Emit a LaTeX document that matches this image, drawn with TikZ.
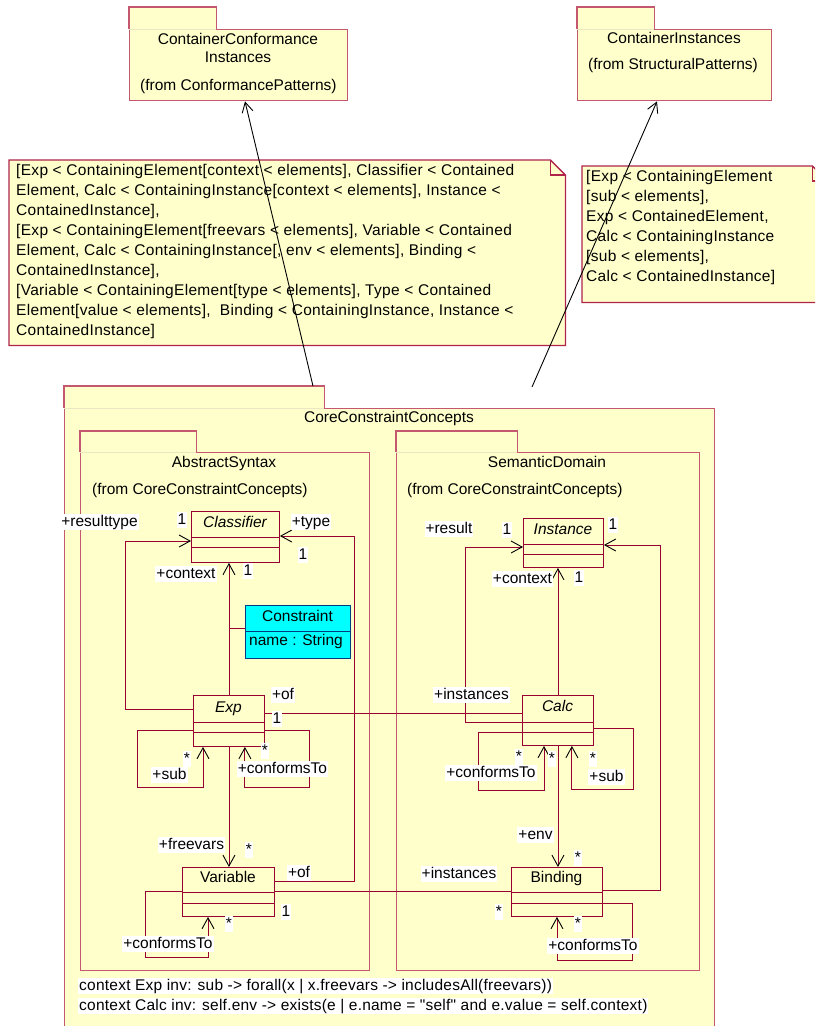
\documentclass[tikz,border=0pt]{standalone}
\usepackage{fontspec}
\setmainfont{Liberation Sans}
\newfontfamily\notefont[LetterSpace=2]{Liberation Sans}
\newfontfamily\oclfont[LetterSpace=1.5]{Liberation Sans}
\usetikzlibrary{arrows.meta,calc}
\definecolor{paper}{RGB}{255,255,204}
\definecolor{pkgline}{RGB}{196,88,112}
\definecolor{tabseam}{RGB}{236,230,196}
\definecolor{clsline}{RGB}{152,0,50}
\definecolor{noteline}{RGB}{176,36,76}
\definecolor{cyanfill}{RGB}{0,255,255}
\definecolor{cyanline}{RGB}{0,60,130}

\begin{document}
\begin{tikzpicture}[x=1pt,y=-1pt,
  txt/.style={font=\fontsize{15.5}{20}\selectfont, inner sep=0pt, text height=11pt, text depth=3pt},
  itxt/.style={txt, font=\fontsize{15.5}{20}\selectfont\itshape},
  lbl/.style={txt, fill=white, inner xsep=1pt, inner ysep=1pt},
  ocl/.style={lbl, anchor=west, font=\oclfont\fontsize{15.5}{20}\selectfont},
  notetxt/.style={font=\notefont\fontsize{15.5}{20}\selectfont, inner sep=0pt, anchor=base west},
  pkgbody/.style={draw=pkgline, fill=paper, line width=1.4pt, anchor=north west, inner sep=0pt},
  pkgtab/.style={fill=paper, anchor=north west, inner sep=0pt},
  pkgedge/.style={draw=pkgline, line width=1.4pt},
  seam/.style={draw=tabseam, line width=1.2pt},
  cls/.style={draw=clsline, fill=paper, line width=0.9pt, anchor=north west, inner sep=0pt},
  clsedge/.style={draw=clsline, line width=0.9pt},
  assoc/.style={draw=clsline, line width=0.9pt},
  nav/.style={assoc, -{Straight Barb[length=11pt,width=12pt,color=black]}},
  dep/.style={draw=black, line width=0.9pt, -{Straight Barb[length=10pt,width=11pt]}},
  notebody/.style={anchor=north west, inner sep=0pt},
  noteedge/.style={draw=noteline, fill=paper, line width=1.3pt},
]
\useasboundingbox (0,0) rectangle (815,1026);
\clip (0,0) rectangle (815,1026);
\fill[white] (0,0) rectangle (815,1026);

% ---------- packages referenced from outside ----------
\node[pkgtab, minimum width=87pt, minimum height=22pt] (ccinsttab) at (129,7) {};
\node[pkgbody, minimum width=218pt, minimum height=71pt] (ccinst) at (129,29) {};
\draw[pkgedge] (ccinsttab.south west) -- (ccinsttab.north west) -- (ccinsttab.north east) -- (ccinsttab.south east);
\draw[seam] (ccinsttab.south west) -- (ccinsttab.south east);
\node[txt] (ccinstt1) at (238,40) {ContainerConformance};
\node[txt] (ccinstt2) at (238,58) {Instances};
\node[txt, anchor=west] (ccinstf) at (140,86) {(from ConformancePatterns)};

\node[pkgtab, minimum width=77pt, minimum height=22pt] (cinsttab) at (577,7) {};
\node[pkgbody, minimum width=194pt, minimum height=71pt] (cinst) at (577,29) {};
\draw[pkgedge] (cinsttab.south west) -- (cinsttab.north west) -- (cinsttab.north east) -- (cinsttab.south east);
\draw[seam] (cinsttab.south west) -- (cinsttab.south east);
\node[txt] (cinstt) at (674,39) {ContainerInstances};
\node[txt, anchor=west] (cinstf) at (588,65) {(from StructuralPatterns)};

% ---------- binding notes ----------
\node[notebody, minimum width=556pt, minimum height=185pt] (note1) at (9,160) {};
\draw[noteedge] (note1.north west) -- ($(note1.north east)+(-15,0)$) -- ($(note1.north east)+(0,15)$)
  -- (note1.south east) -- (note1.south west) -- cycle;
\draw[draw=noteline, line width=1.1pt] ($(note1.north east)+(-15,0)$) -- ($(note1.north east)+(-15,15)$) -- ($(note1.north east)+(0,15)$);
\foreach \t [count=\i] in {
  {[Exp < ContainingElement[context < elements], Classifier < Contained},
  {Element, Calc < ContainingInstance[context < elements], Instance <},
  {ContainedInstance],},
  {[Exp < ContainingElement[freevars < elements], Variable < Contained},
  {Element, Calc < ContainingInstance[, env < elements], Binding <},
  {ContainedInstance],},
  {[Variable < ContainingElement[type < elements], Type < Contained},
  {Element[value < elements],\ \ Binding < ContainingInstance, Instance <},
  {ContainedInstance]}}
  \node[notetxt] (note1line\i) at (16,{175.5+20*(\i-1)}) {\t};

\node[notebody, minimum width=245pt, minimum height=136pt] (note2) at (582,166) {};
\draw[noteedge] (note2.north west) -- ($(note2.north east)+(-15,0)$) -- ($(note2.north east)+(0,15)$)
  -- (note2.south east) -- (note2.south west) -- cycle;
\draw[draw=noteline, line width=1.1pt] ($(note2.north east)+(-15,0)$) -- ($(note2.north east)+(-15,15)$) -- ($(note2.north east)+(0,15)$);
\foreach \t [count=\i] in {
  {[Exp < ContainingElement},
  {[sub < elements],},
  {Exp < ContainedElement,},
  {Calc < ContainingInstance},
  {[sub < elements],},
  {Calc < ContainedInstance]}}
  \node[notetxt] (note2line\i) at (586,{181.5+20*(\i-1)}) {\t};

% ---------- CoreConstraintConcepts ----------
\node[pkgtab, minimum width=260pt, minimum height=22pt] (coretab) at (64,386) {};
\node[pkgbody, minimum width=650pt, minimum height=660pt] (core) at (64,408) {};
\draw[pkgedge] (coretab.south west) -- (coretab.north west) -- (coretab.north east) -- (coretab.south east);
\draw[seam] (coretab.south west) -- (coretab.south east);
\node[txt] (coret) at (389,418) {CoreConstraintConcepts};

% dependencies towards the pattern packages
\coordinate (dep1src) at ($(coretab.north west)+(249,0)$);
\coordinate (dep2src) at ($(core.north west)+(468,-21)$);
\draw[dep] (dep1src) -- ($(ccinst.south west)+(116,0)$);
\draw[dep] (dep2src) -- ($(cinst.south west)+(80,0)$);

% AbstractSyntax
\node[pkgtab, minimum width=116pt, minimum height=21pt] (abstab) at (80,431) {};
\node[pkgbody, minimum width=289pt, minimum height=518pt] (abs) at (80,452) {};
\draw[pkgedge] (abstab.south west) -- (abstab.north west) -- (abstab.north east) -- (abstab.south east);
\draw[seam] (abstab.south west) -- (abstab.south east);
\node[txt] (abst) at (224,463) {AbstractSyntax};
\node[txt, anchor=west] (absf) at (92,490) {(from CoreConstraintConcepts)};

% SemanticDomain
\node[pkgtab, minimum width=121pt, minimum height=21pt] (semtab) at (396,431) {};
\node[pkgbody, minimum width=303pt, minimum height=518pt] (sem) at (396,452) {};
\draw[pkgedge] (semtab.south west) -- (semtab.north west) -- (semtab.north east) -- (semtab.south east);
\draw[seam] (semtab.south west) -- (semtab.south east);
\node[txt] (semt) at (547,463) {SemanticDomain};
\node[txt, anchor=west] (semf) at (407,490) {(from CoreConstraintConcepts)};

% ---------- classes ----------
\node[cls, minimum width=88pt, minimum height=51pt] (classifier) at (191,511) {};
\draw[clsedge] ($(classifier.north west)+(0,26)$) -- ($(classifier.north east)+(0,26)$);
\draw[clsedge] ($(classifier.north west)+(0,36)$) -- ($(classifier.north east)+(0,36)$);
\node[itxt] (classifiern) at (235,523) {Classifier};

\node[draw=cyanline, fill=cyanfill, line width=1pt, anchor=north west, inner sep=0pt,
      minimum width=105pt, minimum height=53pt] (constraint) at (245,605) {};
\draw[draw=cyanline, line width=1pt] ($(constraint.north west)+(0,26)$) -- ($(constraint.north east)+(0,26)$);
\node[txt] (constraintn) at (297.5,617) {Constraint};
\node[txt, anchor=west] (constraintattr) at (249,641) {name : String};

\node[cls, minimum width=71pt, minimum height=51pt] (exp) at (193,695) {};
\draw[clsedge] ($(exp.north west)+(0,27)$) -- ($(exp.north east)+(0,27)$);
\draw[clsedge] ($(exp.north west)+(0,37)$) -- ($(exp.north east)+(0,37)$);
\node[itxt] (expn) at (228.5,708) {Exp};

\node[cls, minimum width=92pt, minimum height=49pt] (variable) at (182,867) {};
\draw[clsedge] ($(variable.north west)+(0,25)$) -- ($(variable.north east)+(0,25)$);
\draw[clsedge] ($(variable.north west)+(0,36)$) -- ($(variable.north east)+(0,36)$);
\node[txt] (variablen) at (228,878) {Variable};

\node[cls, minimum width=80pt, minimum height=49pt] (instance) at (523,518) {};
\draw[clsedge] ($(instance.north west)+(0,26)$) -- ($(instance.north east)+(0,26)$);
\draw[clsedge] ($(instance.north west)+(0,36)$) -- ($(instance.north east)+(0,36)$);
\node[itxt] (instancen) at (563,530) {Instance};

\node[cls, minimum width=71pt, minimum height=50pt] (calc) at (522,695) {};
\draw[clsedge] ($(calc.north west)+(0,27)$) -- ($(calc.north east)+(0,27)$);
\draw[clsedge] ($(calc.north west)+(0,37)$) -- ($(calc.north east)+(0,37)$);
\node[itxt] (calcn) at (557.5,707) {Calc};

\node[cls, minimum width=91pt, minimum height=49pt] (binding) at (511,867) {};
\draw[clsedge] ($(binding.north west)+(0,25)$) -- ($(binding.north east)+(0,25)$);
\draw[clsedge] ($(binding.north west)+(0,36)$) -- ($(binding.north east)+(0,36)$);
\node[txt] (bindingn) at (556.5,878) {Binding};

% ---------- associations ----------
\draw[nav] (exp.north) -- (exp.north |- classifier.south);
\draw[assoc] ($(constraint.north west)+(0,23)$) -- (exp.north |- {$(constraint.north west)+(0,23)$});
\draw[nav] ($(exp.north west)+(0,14)$) -- ++(-68,0) |- ($(classifier.north west)+(0,30)$);
\draw[nav] ($(variable.north east)+(0,14)$) -- ++(80,0) |- ($(classifier.north east)+(0,25)$);
\draw[nav] ($(exp.north west)+(0,35)$) -- ++(-56,0) -- ++(0,57) -| ($(exp.south west)+(10,0)$);
\draw[nav] ($(exp.north east)+(0,35)$) -- ++(45,0) -- ++(0,57) -| ($(exp.south east)+(-20,0)$);
\draw[nav] (exp.south) -- (exp.south |- variable.north);
\draw[nav] ($(variable.north west)+(0,24)$) -- ++(-37,0) -- ++(0,66) -| ($(variable.south west)+(26,0)$);
\draw[assoc] ($(exp.north east)+(0,18)$) -- ($(calc.north west)+(0,18)$);
\draw[assoc] ($(variable.north east)+(0,24)$) -- ($(binding.north west)+(0,24)$);

\draw[nav] (calc.north) -- (calc.north |- instance.south);
\draw[nav] ($(calc.north west)+(0,27)$) -- ++(-57,0) |- ($(instance.north west)+(0,29)$);
\draw[nav] ($(binding.north east)+(0,23)$) -- ++(58,0) |- ($(instance.north east)+(0,27)$);
\draw[nav] (calc.south) -- (calc.south |- binding.north);
\draw[nav] ($(calc.north west)+(0,37)$) -- ++(-44,0) -- ++(0,58) -| ($(calc.south west)+(22,0)$);
\draw[nav] ($(calc.north east)+(0,33)$) -- ++(40,0) -- ++(0,61) -| ($(calc.south east)+(-22,0)$);
\draw[nav] ($(binding.north east)+(0,36)$) -- ++(30,0) -- ++(0,57) -| (binding.south);

% ---------- role names and multiplicities ----------
\node[lbl] (rtype) at (99.5,522) {+resulttype};
\node[lbl] (rtypem) at (182,520) {1};
\node[lbl] (ctype) at (311,522) {+type};
\node[lbl] (ctypem) at (303,555) {1};
\node[lbl] (ectx) at (186,574) {+context};
\node[lbl] (ectxm) at (248,571) {1};
\node[lbl] (eof) at (283,695) {+of};
\node[lbl] (eofm) at (277,719) {1};
\node[lbl] (cinsts) at (471.5,695) {+instances};
\node[lbl] (esubm) at (187,759) {*};
\node[lbl] (esub) at (169.5,775) {+sub};
\node[lbl] (econfm) at (265,751) {*};
\node[lbl] (econf) at (282.5,769) {+conformsTo};
\node[lbl] (efree) at (191.5,845) {+freevars};
\node[lbl] (efreem) at (249,850) {*};
\node[lbl] (vof) at (299,873) {+of};
\node[lbl] (vofm) at (286,912) {1};
\node[lbl] (vconfm) at (229,924) {*};
\node[lbl] (vconf) at (168,944) {+conformsTo};
\node[lbl] (binsts) at (459,874) {+instances};
\node[lbl] (binstsm) at (499,912) {*};
\node[lbl] (ires) at (449,529) {+result};
\node[lbl] (iresm) at (507,530) {1};
\node[lbl] (ivalm) at (613,525) {1};
\node[lbl] (cctx) at (522.5,579) {+context};
\node[lbl] (cctxm) at (579,578) {1};
\node[lbl] (cconfm) at (519,757) {*};
\node[lbl] (cenvsrc) at (552,759) {*};
\node[lbl] (cconf) at (491,773) {+conformsTo};
\node[lbl] (csubm) at (593,759) {*};
\node[lbl] (csub) at (606.5,777) {+sub};
\node[lbl] (cenv) at (535.5,835) {+env};
\node[lbl] (cenvm) at (578,858) {*};
\node[lbl] (bconfm) at (578,924) {*};
\node[lbl] (bconf) at (593,946) {+conformsTo};

% ---------- OCL invariants ----------
\node[ocl] (ocl1) at (78,986) {context Exp inv: sub -> forall(x | x.freevars -> includesAll(freevars))};
\node[ocl] (ocl2) at (78,1006) {context Calc inv: self.env -> exists(e | e.name = "self" and e.value = self.context)};
\end{tikzpicture}
\end{document}
